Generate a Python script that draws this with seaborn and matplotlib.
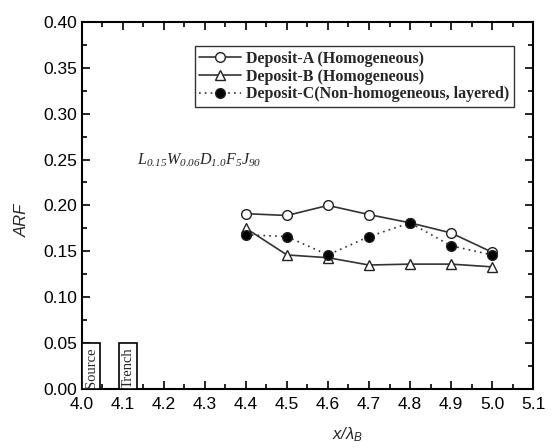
import numpy as np
import pandas as pd
import matplotlib
matplotlib.use("Agg")
import matplotlib.pyplot as plt
import seaborn as sns
from matplotlib.ticker import MultipleLocator, FormatStrFormatter

# Distance along the flume, normalised by wavelength
x_pos = [4.4, 4.5, 4.6, 4.7, 4.8, 4.9, 5.0]
arf_a = [0.191, 0.189, 0.200, 0.190, 0.181, 0.170, 0.149]
arf_b = [0.175, 0.146, 0.143, 0.135, 0.136, 0.136, 0.133]
arf_c = [0.168, 0.166, 0.146, 0.166, 0.181, 0.156, 0.146]
series_names = ["Deposit-A (Homogeneous)",
                "Deposit-B (Homogeneous)",
                "Deposit-C(Non-homogeneous, layered)"]

# Source and trench blocks
block_left = [4.0, 4.09]
block_width = [0.045, 0.045]
block_height = [0.05, 0.05]
block_labels = ["Source", "Trench"]

sns.set_theme(style="ticks")
plt.rcParams["font.family"] = ["Liberation Sans", "DejaVu Sans"]
plt.rcParams["mathtext.fontset"] = "custom"
plt.rcParams["mathtext.it"] = "Liberation Serif:italic"
plt.rcParams["mathtext.rm"] = "Liberation Serif:italic"
plt.rcParams["mathtext.sf"] = "Liberation Sans:italic"

fig = plt.figure(figsize=(5.53, 4.48), dpi=100)
ax = fig.add_axes([0.148, 0.132, 0.816, 0.819])

df = pd.DataFrame({
    "x": x_pos * 3,
    "ARF": arf_a + arf_b + arf_c,
    "series": sum([[n] * len(x_pos) for n in series_names], []),
})

styles = [
    dict(marker="o", ls="-", mfc="white"),
    dict(marker="^", ls="-", mfc="white"),
    dict(marker="o", ls=(0, (1, 2.5)), mfc="black"),
]
for name, st in zip(series_names, styles):
    sub = df[df["series"] == name]
    sns.lineplot(data=sub, x="x", y="ARF", ax=ax, color="#333333",
                 marker=st["marker"], linestyle=st["ls"], linewidth=1.2,
                 markersize=7, markerfacecolor=st["mfc"],
                 markeredgecolor="#222222", markeredgewidth=1.0,
                 label=name, legend=False)

ax.bar(block_left, block_height, width=block_width, align="edge",
       facecolor="white", edgecolor="black", linewidth=1.2, zorder=3)
for left, w, lab in zip(block_left, block_width, block_labels):
    ax.text(left + w / 2, 0.0235, lab, rotation=90, ha="center", va="center",
            fontsize=10.5, family="Liberation Serif", zorder=4)

ax.set_xlim(4.0, 5.1)
ax.set_ylim(0.0, 0.40)
ax.xaxis.set_major_locator(MultipleLocator(0.1))
ax.xaxis.set_minor_locator(MultipleLocator(0.05))
ax.yaxis.set_major_locator(MultipleLocator(0.05))
ax.yaxis.set_minor_locator(MultipleLocator(0.025))
ax.xaxis.set_major_formatter(FormatStrFormatter("%.1f"))
ax.yaxis.set_major_formatter(FormatStrFormatter("%.2f"))
ax.tick_params(which="both", direction="in", top=True, right=True,
               width=1.2, colors="black", labelsize=12.5)
ax.tick_params(axis="x", which="major", pad=6)
ax.tick_params(which="major", length=6)
ax.tick_params(which="minor", length=3.5)
for sp in ax.spines.values():
    sp.set_linewidth(1.5)
    sp.set_color("black")

ax.set_xlabel(r"$\mathsf{x/\lambda_B}$", fontsize=12)
ax.xaxis.set_label_coords(0.59, -0.1)
ax.set_ylabel("ARF", fontsize=12, fontstyle="italic")
ax.yaxis.set_label_coords(-0.115, 0.46)

ax.text(0.122, 0.624,
        r"$L_{0.15}W_{0.06}D_{1.0}F_{5}J_{90}$",
        transform=ax.transAxes, fontsize=11.5, ha="left", va="center")

leg = ax.legend(loc="upper left", bbox_to_anchor=(0.25, 0.935),
                prop={"family": "Liberation Serif", "weight": "bold", "size": 11.5},
                frameon=True, fancybox=False, edgecolor="black",
                handlelength=2.6, handletextpad=0.3, borderpad=0.3,
                labelspacing=0.12, borderaxespad=0)
leg.get_frame().set_linewidth(1.0)

fig.savefig("out.png", dpi=100)
